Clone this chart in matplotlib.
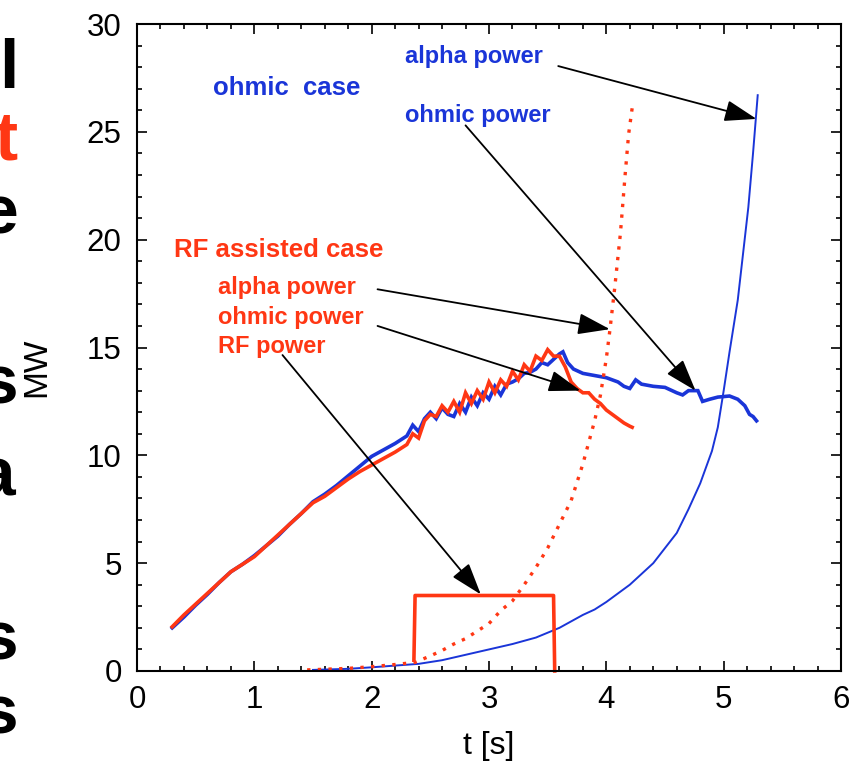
import matplotlib
matplotlib.use("Agg")
import matplotlib.pyplot as plt

plt.rcParams['font.family'] = ['Liberation Sans', 'DejaVu Sans']

BLUE = "#1a35d8"
RED = "#ff3714"

# ohmic case, ohmic power (thick blue)
t_ohm_b = [0.30, 0.40, 0.50, 0.60, 0.70, 0.80, 0.90, 1.00, 1.10, 1.20, 1.30, 1.40, 1.50,
           1.60, 1.70, 1.80, 1.90, 2.00, 2.10, 2.20, 2.30, 2.35, 2.40, 2.45, 2.50, 2.55,
           2.60, 2.65, 2.70, 2.75, 2.80, 2.85, 2.90, 2.95, 3.00, 3.05, 3.10, 3.15, 3.20,
           3.25, 3.30, 3.35, 3.40, 3.45, 3.50, 3.55, 3.60, 3.63, 3.67, 3.72, 3.80, 3.90,
           4.00, 4.05, 4.10, 4.15, 4.20, 4.25, 4.30, 4.40, 4.50, 4.60, 4.65, 4.70, 4.78,
           4.82, 4.88, 4.95, 5.05, 5.12, 5.18, 5.22, 5.25, 5.28]
p_ohm_b = [2.00, 2.50, 3.05, 3.55, 4.10, 4.60, 4.95, 5.35, 5.80, 6.25, 6.80, 7.30, 7.85,
           8.20, 8.60, 9.05, 9.50, 9.95, 10.25, 10.55, 10.90, 11.40, 11.10, 11.70, 12.00, 11.70,
           12.20, 11.90, 11.80, 12.40, 12.00, 12.70, 12.30, 12.90, 12.60, 13.20, 12.80, 13.30, 13.40,
           13.55, 13.80, 13.85, 14.00, 14.30, 14.20, 14.45, 14.70, 14.80, 14.30, 14.00, 13.80, 13.70,
           13.60, 13.50, 13.40, 13.20, 13.10, 13.50, 13.30, 13.20, 13.15, 12.90, 12.80, 13.00, 13.00,
           12.50, 12.60, 12.70, 12.75, 12.60, 12.30, 11.90, 11.80, 11.60]

# RF assisted case, ohmic power (thick red)
t_ohm_r = [0.30, 0.40, 0.50, 0.60, 0.70, 0.80, 0.90, 1.00, 1.10, 1.20, 1.30, 1.40, 1.50,
           1.60, 1.70, 1.80, 1.90, 2.00, 2.10, 2.20, 2.30, 2.35, 2.40, 2.45, 2.50, 2.55,
           2.60, 2.65, 2.70, 2.75, 2.80, 2.85, 2.90, 2.95, 3.00, 3.05, 3.10, 3.15, 3.20,
           3.25, 3.30, 3.35, 3.40, 3.45, 3.50, 3.55, 3.60, 3.65, 3.70, 3.75, 3.80, 3.85,
           3.90, 3.95, 4.00, 4.05, 4.10, 4.15, 4.20, 4.22]
p_ohm_r = [2.05, 2.60, 3.10, 3.60, 4.10, 4.60, 4.95, 5.30, 5.80, 6.30, 6.80, 7.30, 7.80,
           8.10, 8.50, 8.90, 9.25, 9.55, 9.85, 10.15, 10.50, 11.00, 10.80, 11.60, 11.90, 11.80,
           12.30, 12.00, 12.50, 12.00, 12.90, 12.40, 13.00, 12.60, 13.40, 12.90, 13.50, 13.20, 13.90,
           13.50, 14.20, 13.90, 14.60, 14.40, 14.90, 14.60, 14.60, 14.10, 13.40, 13.10, 12.90, 12.90,
           12.60, 12.40, 12.10, 11.90, 11.70, 11.50, 11.35, 11.30]

# ohmic case, alpha power (thin blue)
t_alpha_b = [1.50, 1.80, 2.00, 2.20, 2.40, 2.60, 2.80, 3.00, 3.20, 3.40, 3.60, 3.80, 3.90,
             4.00, 4.10, 4.20, 4.30, 4.40, 4.50, 4.60, 4.70, 4.80, 4.90, 4.95, 5.00, 5.05,
             5.12, 5.21, 5.25, 5.29]
p_alpha_b = [0.05, 0.10, 0.17, 0.25, 0.33, 0.50, 0.75, 1.00, 1.25, 1.55, 2.00, 2.60, 2.85,
             3.20, 3.60, 4.00, 4.50, 5.00, 5.70, 6.40, 7.50, 8.70, 10.20, 11.30, 13.00, 14.80,
             17.20, 21.50, 24.00, 26.70]

# RF assisted case, alpha power (dotted red)
t_alpha_r = [1.45, 1.60, 1.80, 2.00, 2.20, 2.37, 2.50, 2.60, 2.70, 2.80, 2.90, 3.00, 3.10,
             3.20, 3.30, 3.40, 3.50, 3.60, 3.70, 3.80, 3.90, 3.95, 4.00, 4.03, 4.07, 4.12,
             4.16, 4.19, 4.22]
p_alpha_r = [0.05, 0.08, 0.12, 0.20, 0.30, 0.40, 0.70, 0.95, 1.25, 1.50, 1.85, 2.20, 2.80,
             3.25, 4.00, 4.80, 5.70, 6.80, 7.90, 9.60, 11.60, 12.80, 14.50, 15.80, 17.70, 20.30,
             23.00, 24.90, 26.10]

# RF power (red step)
t_rf = [2.36, 2.37, 3.55, 3.56]
p_rf = [0.5, 3.5, 3.5, 0.0]

fig = plt.figure(figsize=(8.61, 7.65), dpi=100)
ax = fig.add_axes([0.1591, 0.1229, 0.8177, 0.8457])

ax.plot(t_ohm_b, p_ohm_b, color=BLUE, lw=2.6, solid_joinstyle='miter')
ax.plot(t_ohm_r, p_ohm_r, color=RED, lw=2.6, solid_joinstyle='miter')
ax.plot(t_alpha_b, p_alpha_b, color=BLUE, lw=1.4)
ax.plot(t_alpha_r, p_alpha_r, color=RED, lw=2.4, linestyle=(0, (1.0, 2.2)))
ax.plot(t_rf, p_rf, color=RED, lw=2.6, clip_on=False)

ax.set_xlim(0, 6)
ax.set_ylim(0, 30)
ax.set_xticks(range(0, 7))
ax.set_yticks(range(0, 31, 5))
ax.set_xticks([i * 0.2 for i in range(31)], minor=True)
ax.set_yticks(range(0, 31), minor=True)
ax.tick_params(which='both', direction='in', top=True, right=True, labelsize=22.5, width=1.2)
ax.tick_params(which='major', length=7, pad=10)
ax.tick_params(axis='y', which='major', pad=11)
ax.tick_params(which='minor', length=3.5)
for s in ax.spines.values():
    s.set_linewidth(1.5)

ax.set_xlabel("t [s]", fontsize=23)
ax.set_ylabel("MW", fontsize=24)
ax.xaxis.set_label_coords(0.5, -0.093)
ax.yaxis.set_label_coords(-0.121, 0.47)

# labels
ax.text(0.65, 26.7, "ohmic  case", color=BLUE, fontsize=18.5, fontweight='bold')
ax.text(2.28, 28.2, "alpha power", color=BLUE, fontsize=17, fontweight='bold')
ax.text(2.28, 25.45, "ohmic power", color=BLUE, fontsize=17, fontweight='bold')
ax.text(0.315, 19.2, "RF assisted case", color=RED, fontsize=18.5, fontweight='bold')
ax.text(0.69, 17.5, "alpha power", color=RED, fontsize=17, fontweight='bold')
ax.text(0.69, 16.1, "ohmic power", color=RED, fontsize=17, fontweight='bold')
ax.text(0.69, 14.75, "RF power", color=RED, fontsize=17, fontweight='bold')

arrow = dict(arrowstyle='-|>,head_length=0.9,head_width=0.3', color='black', lw=1.3,
             shrinkA=0, shrinkB=0, mutation_scale=22)
ax.annotate("", xy=(5.28, 25.6), xytext=(3.59, 28.05), arrowprops=arrow)
ax.annotate("", xy=(4.76, 13.0), xytext=(2.80, 25.3), arrowprops=arrow)
ax.annotate("", xy=(4.03, 15.85), xytext=(2.05, 17.7), arrowprops=arrow)
ax.annotate("", xy=(3.78, 13.0), xytext=(2.05, 16.0), arrowprops=arrow)
ax.annotate("", xy=(2.93, 3.55), xytext=(1.24, 14.65), arrowprops=arrow)

# clipped slide text on the left edge
letters = ["l", "t", "e", "s", "a", "s", "s"]
letter_colors = ["black", RED, "black", "black", "black", "black", "black"]
letter_y = [88, 160, 233, 403, 495, 660, 733]
letter_right = [18, 17, 18, 18, 16, 18, 18]
for ch, c, y, xr in zip(letters, letter_colors, letter_y, letter_right):
    fig.text(xr / 861, 1 - y / 765, ch, color=c, fontsize=50, fontweight='bold',
             ha='right', va='baseline')

fig.savefig("out.png", dpi=100)
